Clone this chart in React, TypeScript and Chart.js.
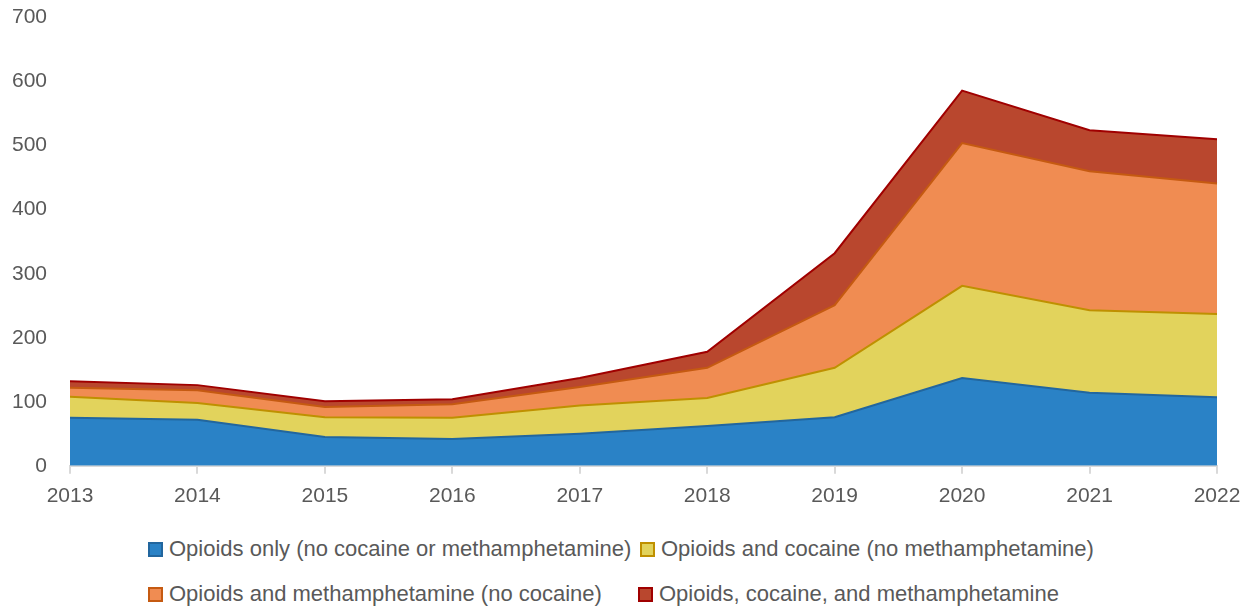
import React, { useEffect, useRef } from "react";
import { Chart, registerables } from "chart.js";

Chart.register(...registerables);

const years = ["2013", "2014", "2015", "2016", "2017", "2018", "2019", "2020", "2021", "2022"];
const opioidsOnly = [75, 72, 45, 42, 50, 62, 76, 137, 114, 107];
const opioidsCocaine = [33, 26, 31, 33, 44, 44, 77, 144, 129, 130];
const opioidsMeth = [14, 20, 16, 21, 29, 47, 98, 223, 217, 204];
const opioidsAll = [10, 8, 9, 8, 14, 25, 81, 82, 64, 69];
const yTicks = [0, 100, 200, 300, 400, 500, 600, 700];

const seriesNames = [
  "Opioids only (no cocaine or methamphetamine)",
  "Opioids and cocaine (no methamphetamine)",
  "Opioids and methamphetamine (no cocaine)",
  "Opioids, cocaine, and methamphetamine",
];
const fills = ["#2A82C6", "#E2D35C", "#F08C52", "#B9472E"];
const borders = ["#22669E", "#BF9000", "#C55A11", "#A00000"];

const FONT = "'Liberation Sans', Arial, sans-serif";
const TEXT = "#595959";

export default function App() {
  const ref = useRef<HTMLCanvasElement | null>(null);

  useEffect(() => {
    document.body.style.margin = "0";
    const values = [opioidsOnly, opioidsCocaine, opioidsMeth, opioidsAll];
    const chart = new Chart(ref.current as HTMLCanvasElement, {
      type: "line",
      data: {
        labels: years,
        datasets: values.map((v, i) => ({
          label: seriesNames[i],
          data: v,
          backgroundColor: fills[i],
          borderColor: borders[i],
          borderWidth: 2,
          fill: i === 0 ? "origin" : "-1",
          pointRadius: 0,
          tension: 0,
        })),
      },
      options: {
        animation: false,
        responsive: false,
        layout: { padding: { top: 0, right: 36, left: 0, bottom: 0 } },
        plugins: { legend: { display: false }, tooltip: { enabled: false } },
        scales: {
          x: {
            offset: false,
            grid: { drawOnChartArea: false, drawTicks: true, tickLength: 8, color: "#D9D9D9", lineWidth: 2 },
            border: { display: true, color: "#D9D9D9", width: 2 },
            ticks: { color: TEXT, font: { family: FONT, size: 21 }, padding: 10, maxRotation: 0 },
          },
          y: {
            stacked: true,
            min: 0,
            max: 700,
            afterBuildTicks: (axis: any) => {
              axis.ticks = yTicks.map((v) => ({ value: v }));
            },
            afterFit: (axis: any) => {
              axis.width = 70;
            },
            grid: { display: false },
            border: { display: false },
            ticks: { color: TEXT, font: { family: FONT, size: 21 }, padding: 15 },
          },
        },
      },
    });
    return () => chart.destroy();
  }, []);

  const legendItems = [
    { i: 0, left: 148, top: 549 },
    { i: 1, left: 640, top: 549 },
    { i: 2, left: 148, top: 594 },
    { i: 3, left: 638, top: 594 },
  ];

  return (
    <div style={{ position: "relative", width: 1253, height: 609, background: "#fff", overflow: "hidden" }}>
      <canvas ref={ref} width={1253} height={529} style={{ position: "absolute", left: 0, top: -10 }} />
      {legendItems.map(({ i, left, top }) => (
        <div
          key={i}
          style={{
            position: "absolute",
            left,
            top: top - 13,
            height: 26,
            display: "flex",
            alignItems: "center",
            fontFamily: FONT,
            fontSize: 22,
            color: TEXT,
            whiteSpace: "nowrap",
          }}
        >
          <span
            style={{
              display: "inline-block",
              width: 11,
              height: 11,
              background: fills[i],
              border: `2px solid ${borders[i]}`,
              marginRight: 6,
            }}
          />
          <span>{seriesNames[i]}</span>
        </div>
      ))}
    </div>
  );
}
